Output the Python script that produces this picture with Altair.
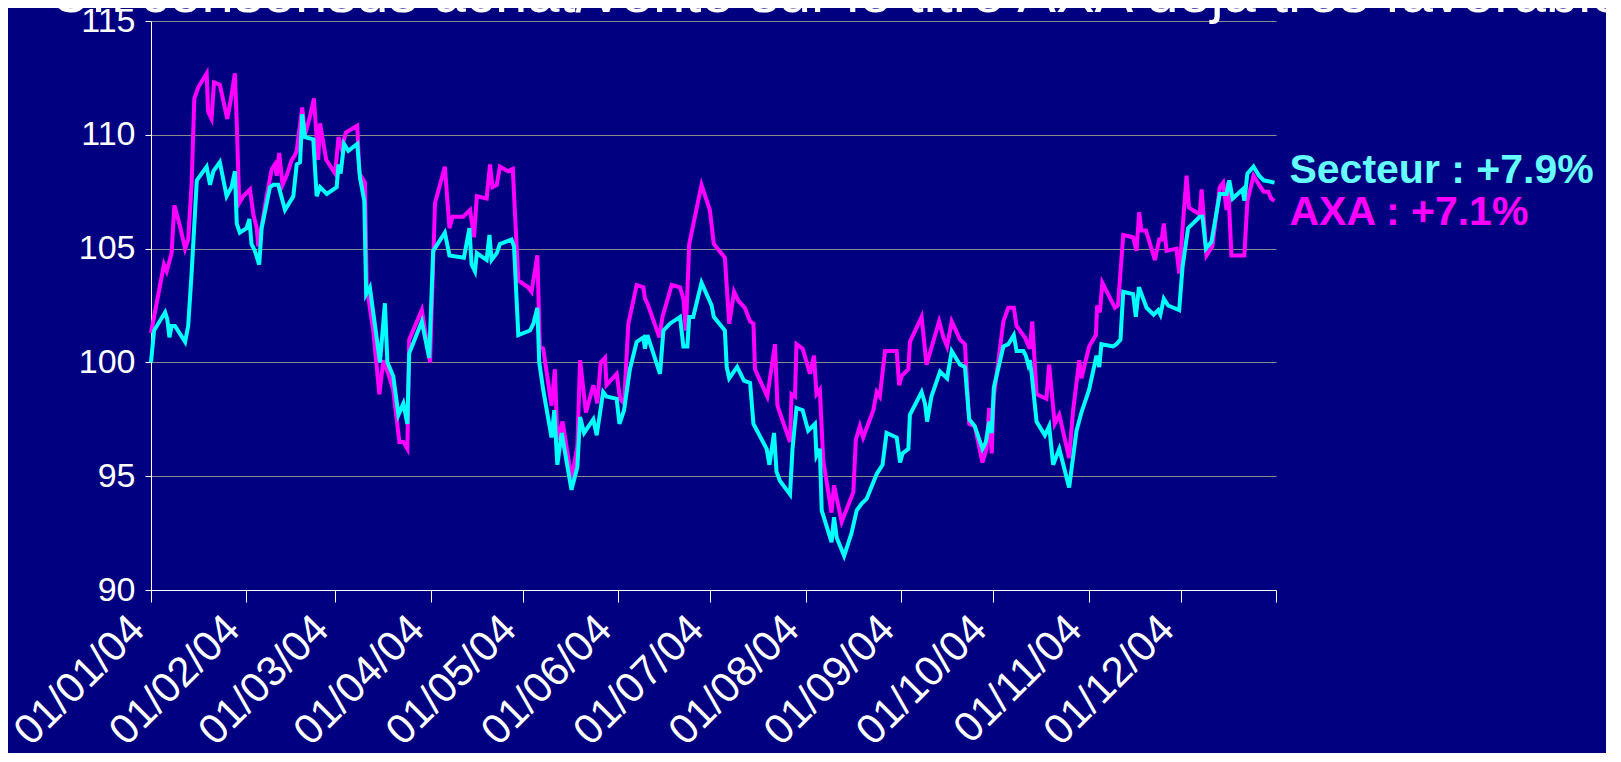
import altair as alt
import pandas as pd

TITLE = "Un consensus achat/vente sur le titre AXA déjà très favorable"

# day offsets from 01/01/2004 and index values (base 100)
sect_days = [0, 1.0, 4.6, 5.3, 6.0, 6.7, 7.8, 11.1, 12.1, 13.2, 14.9, 18.1, 19.2, 20.3, 22.4, 24.6, 26.2, 27.3, 27.9, 28.9,
             31.1, 32.0, 32.7, 33.8, 35.2, 36.0, 38.7, 39.8, 41.4, 43.6, 46.3, 47.4, 48.5, 49.2, 50.1, 52.8, 53.9, 55.0, 57.2, 60.4,
             61.0, 61.7, 62.8, 64.2, 67.1, 68.0, 69.4, 70.0, 71.2, 72.9, 74.5, 76.1, 76.9, 78.8, 80.5, 82.1, 83.4, 84.0, 88.1, 90.5,
             91.8, 95.6, 97.1, 101.8, 103.6, 104.3, 105.4, 106.0, 109.2, 110.1, 110.8, 112.5, 113.5, 117.3, 118.1, 119.5, 123.3, 124.4, 125.7, 126.3,
             127.6, 130.3, 131.2, 132.2, 133.6, 136.8, 138.7, 139.6, 140.9, 143.9, 145.0, 147.1, 148.2, 151.5, 152.4, 153.9, 155.8, 158.0, 160.2, 160.7,
             161.5, 165.6, 166.7, 168.8, 172.1, 173.2, 174.5, 175.1, 176.4, 179.1, 182.4, 183.1, 186.7, 187.3, 188.1, 190.7, 192.9, 194.9, 196.0, 200.3,
             201.2, 202.7, 203.5, 204.6, 207.9, 208.7, 210.0, 212.0, 213.8, 216.0, 216.5, 217.6, 218.2, 221.4, 222.2, 223.1, 225.5, 227.9, 229.6, 231.2,
             232.8, 236.1, 238.0, 239.3, 242.6, 243.7, 244.5, 246.4, 246.9, 250.7, 251.8, 252.5, 253.9, 256.7, 259.0, 260.5, 263.2, 264.8, 266.2, 268.0,
             270.5, 271.6, 272.7, 273.5, 274.2, 277.3, 278.9, 280.7, 281.6, 283.8, 284.6, 285.4, 285.9, 286.5, 288.1, 290.8, 292.2, 293.5, 295.5, 298.7,
             301.1, 302.7, 305.2, 307.6, 308.5, 309.2, 313.0, 314.1, 315.4, 316.3, 319.5, 320.4, 321.4, 323.9, 326.2, 327.7, 328.4, 329.5, 330.9, 334.5,
             335.6, 337.4, 341.2, 342.1, 343.2, 345.0, 347.7, 349.9, 350.8, 351.9, 355.1, 355.7, 356.7, 358.7, 360.5, 362.0, 365.5]
sect_vals = [100.0, 101.4, 102.2, 101.9, 101.1, 101.6, 101.6, 100.9, 101.6, 103.9, 108.0, 108.6, 107.8, 108.4, 108.8, 107.3, 107.7, 108.4, 106.1, 105.7,
             105.9, 106.3, 105.2, 104.9, 104.3, 105.9, 107.7, 107.8, 107.8, 106.7, 107.3, 108.7, 108.8, 110.9, 109.9, 109.8, 107.3, 107.7, 107.4, 107.7,
             108.7, 108.3, 109.6, 109.3, 109.6, 108.1, 107.1, 103.0, 103.3, 101.6, 100.0, 102.6, 100.0, 99.4, 97.7, 98.2, 97.3, 100.4, 101.8, 100.2,
             104.9, 105.7, 104.7, 104.6, 105.9, 104.3, 104.0, 104.8, 104.5, 105.6, 104.5, 104.8, 105.2, 105.4, 105.1, 101.2, 101.4, 101.7, 102.4, 100.0,
             98.8, 96.7, 97.9, 95.5, 96.9, 94.4, 95.4, 97.6, 96.9, 97.5, 96.8, 98.7, 98.5, 98.4, 97.3, 97.9, 99.7, 100.9, 101.1, 100.6,
             101.2, 99.5, 101.4, 101.7, 102.0, 100.7, 100.7, 102.0, 102.0, 103.5, 102.5, 102.0, 101.4, 99.8, 99.3, 99.8, 99.2, 99.1, 97.3, 96.2,
             95.5, 96.9, 95.2, 94.8, 94.2, 96.2, 98.0, 97.9, 97.0, 97.3, 95.9, 96.2, 93.5, 92.1, 93.2, 92.3, 91.5, 92.5, 93.5, 93.8,
             94.0, 95.1, 95.5, 96.9, 96.7, 95.6, 96.0, 96.2, 97.7, 98.7, 98.2, 97.4, 98.5, 99.6, 99.3, 100.5, 99.9, 99.8, 97.5, 97.2,
             96.2, 96.5, 97.4, 96.9, 98.9, 100.7, 100.8, 101.2, 100.5, 100.5, 100.3, 99.9, 100.1, 99.5, 97.4, 96.8, 97.2, 95.5, 96.2, 94.5,
             97.0, 97.8, 98.8, 100.3, 99.8, 100.8, 100.7, 100.8, 101.0, 103.1, 103.0, 102.0, 103.3, 102.4, 102.1, 102.3, 102.1, 102.8, 102.5, 102.3,
             104.2, 105.9, 106.4, 106.4, 105.0, 105.3, 107.4, 107.4, 108.0, 107.2, 107.6, 107.1, 108.3, 108.6, 108.2, 108.0, 107.9]

axa_days = [0, 2.4, 4.2, 5.1, 6.7, 7.6, 9.4, 11.1, 12.1, 13.2, 14.1, 15.4, 18.1, 18.6, 19.7, 20.5, 22.4, 24.8, 25.9, 27.3,
            27.9, 28.7, 30.0, 32.2, 33.3, 34.4, 34.9, 37.6, 39.3, 40.3, 40.9, 41.7, 42.8, 44.1, 45.8, 46.8, 47.4, 49.2, 50.1, 51.7,
            53.0, 54.4, 55.0, 57.0, 59.9, 61.0, 62.0, 63.4, 67.1, 67.8, 69.6, 70.2, 72.3, 74.3, 75.6, 77.2, 78.8, 80.8, 82.1, 83.4,
            84.0, 88.1, 90.8, 92.4, 95.6, 97.1, 98.1, 101.6, 103.8, 105.1, 106.0, 109.2, 110.3, 111.1, 112.5, 113.5, 116.2, 117.7, 119.5, 122.7,
            123.8, 125.7, 126.5, 127.6, 130.3, 131.4, 132.2, 133.9, 136.8, 138.7, 139.6, 141.5, 143.9, 145.2, 146.3, 147.7, 148.2, 151.5, 152.6, 153.9,
            155.3, 158.0, 160.2, 160.7, 161.5, 165.4, 166.4, 169.4, 172.1, 173.2, 174.0, 175.1, 179.1, 181.8, 183.1, 186.7, 188.1, 189.7, 191.1, 193.2,
            194.9, 196.0, 196.5, 200.5, 203.0, 203.8, 207.9, 208.4, 209.5, 210.0, 212.0, 214.4, 215.7, 216.5, 217.6, 218.7, 221.4, 222.2, 224.7, 228.5,
            229.3, 230.6, 231.7, 235.0, 236.1, 237.1, 238.8, 242.6, 243.4, 244.2, 246.4, 246.9, 250.7, 252.3, 256.4, 257.8, 259.0, 260.5, 263.2, 264.8,
            266.2, 268.0, 270.5, 271.8, 272.7, 273.5, 274.2, 277.3, 278.9, 280.7, 281.6, 284.3, 285.9, 286.7, 288.1, 291.3, 292.2, 294.0, 295.5, 298.7,
            300.0, 302.0, 302.7, 305.2, 307.4, 307.8, 308.7, 309.5, 313.6, 314.6, 316.3, 319.5, 320.6, 321.5, 322.2, 323.7, 326.6, 328.0, 328.8, 329.5,
            330.4, 333.6, 334.5, 336.9, 337.7, 341.2, 341.8, 343.4, 345.3, 347.7, 348.8, 349.9, 350.4, 351.5, 355.7, 356.7, 358.7, 360.5, 362.0, 363.5,
            364.4, 365.5]
axa_vals = [101.3, 103.0, 104.3, 104.0, 104.8, 106.9, 106.0, 105.0, 105.4, 107.8, 111.6, 112.1, 112.7, 111.0, 110.7, 112.3, 112.2, 110.7, 111.5, 112.7,
            110.5, 107.0, 107.3, 107.6, 106.5, 105.9, 105.1, 107.3, 108.5, 108.7, 108.2, 109.2, 107.8, 108.2, 108.9, 109.1, 109.3, 111.2, 110.0, 110.8,
            111.6, 108.9, 110.5, 108.9, 108.3, 109.9, 109.4, 110.1, 110.4, 108.3, 107.9, 103.3, 101.4, 98.6, 100.1, 99.5, 98.8, 96.5, 96.5, 96.2,
            101.0, 102.3, 100.0, 107.0, 108.6, 105.9, 106.4, 106.4, 106.7, 105.5, 107.3, 107.2, 108.7, 107.7, 107.8, 108.6, 108.4, 108.5, 103.6, 103.3,
            103.1, 104.7, 100.7, 100.6, 98.1, 99.7, 96.6, 97.4, 94.9, 96.3, 100.1, 97.8, 99.0, 98.2, 100.0, 100.2, 99.0, 99.5, 98.4, 98.2,
            101.7, 103.4, 103.3, 102.8, 102.6, 101.1, 102.0, 103.4, 103.3, 102.8, 101.4, 105.2, 107.8, 106.7, 105.2, 104.6, 101.7, 103.1, 102.7, 102.4,
            101.8, 101.7, 99.7, 98.5, 100.8, 98.1, 96.5, 98.6, 98.5, 100.8, 100.6, 99.5, 100.3, 98.6, 98.8, 95.7, 93.4, 94.6, 93.0, 94.3,
            96.6, 97.2, 96.7, 97.9, 98.7, 98.5, 100.5, 100.5, 99.0, 99.4, 99.7, 100.9, 102.0, 99.9, 101.8, 101.1, 100.7, 101.8, 101.0, 100.8,
            97.3, 97.2, 95.6, 96.2, 98.0, 96.0, 98.5, 101.8, 102.4, 102.4, 101.6, 101.1, 100.6, 101.8, 98.6, 98.4, 99.9, 97.3, 97.7, 95.8,
            97.9, 100.1, 99.3, 100.7, 101.2, 102.5, 102.2, 103.5, 102.4, 102.5, 105.6, 105.5, 104.9, 106.6, 105.8, 105.8, 104.5, 105.4, 105.4, 106.1,
            104.9, 105.0, 103.9, 108.2, 106.8, 106.5, 107.6, 104.7, 105.1, 107.7, 107.9, 106.7, 107.9, 104.7, 104.7, 107.1, 108.2, 107.8, 107.5, 107.5,
            107.2, 107.1]

series_names = ["Secteur", "AXA"]
end_labels = ["Secteur : +7.9%", "AXA : +7.1%"]
y_ticks = [90, 95, 100, 105, 110, 115]

FONT = "Liberation Sans"
BG = "#000080"
W, H = 1125, 569

base = pd.Timestamp("2004-01-01")
sect = pd.DataFrame({"date": base + pd.to_timedelta(sect_days, unit="D"), "value": sect_vals})
axa = pd.DataFrame({"date": base + pd.to_timedelta(axa_days, unit="D"), "value": axa_vals})

lab = pd.DataFrame({
    "date": [sect["date"].iloc[-1], axa["date"].iloc[-1]],
    "value": [sect_vals[-1], axa_vals[-1]],
    "label": end_labels,
    "serie": series_names,
})
title_df = pd.DataFrame({"t": [TITLE]})

month_ticks = [alt.DateTime(year=2004, month=m, date=1) for m in range(1, 13)] + [alt.DateTime(year=2005, month=1, date=1)]

x_enc = alt.X(
    "date:T",
    scale=alt.Scale(domain=[alt.DateTime(year=2004, month=1, date=1), alt.DateTime(year=2005, month=1, date=1)]),
    axis=alt.Axis(
        values=month_ticks,
        labelExpr="datum.value >= datetime(2005, 0, 1) ? '' : timeFormat(datum.value, '%d/%m/%y')",
        labelAngle=-45, labelAlign="right", labelBaseline="middle", labelPadding=20, labelOffset=-14,
        labelFont=FONT, labelFontSize=42, labelColor="white", labelOverlap=False, labelFlush=False,
        tickColor="white", tickSize=12, tickWidth=1, domainColor="white", domainWidth=1,
        grid=False, title=None,
    ),
)
y_enc = alt.Y(
    "value:Q",
    scale=alt.Scale(domain=[90, 115], nice=False, zero=False),
    axis=alt.Axis(
        values=y_ticks, labelFont=FONT, labelFontSize=34, labelColor="white", labelPadding=10,
        tickColor="white", tickSize=6, domainColor="white", gridColor="#8a8a8a", gridWidth=1,
        title=None, labelOverlap=False,
    ),
)

axa_line = alt.Chart(axa).mark_line(color="#FF00FF", strokeWidth=4).encode(x=x_enc, y=y_enc)
sect_line = alt.Chart(sect).mark_line(color="#00FFFF", strokeWidth=4).encode(x="date:T", y="value:Q")

lab_sect = alt.Chart(lab[lab["serie"] == "Secteur"]).mark_text(
    align="left", baseline="alphabetic", dx=15, dy=0, font=FONT, fontSize=41, fontWeight="bold", color="#66FFFF"
).encode(x="date:T", y="value:Q", text="label:N")
lab_axa = alt.Chart(lab[lab["serie"] == "AXA"]).mark_text(
    align="left", baseline="alphabetic", dx=15, dy=24, font=FONT, fontSize=41, fontWeight="bold", color="#FF00FF"
).encode(x="date:T", y="value:Q", text="label:N")

title = alt.Chart(title_df).mark_text(
    align="left", baseline="alphabetic", font=FONT, fontSize=58, color="white"
).encode(x=alt.value(-101), y=alt.value(-9), text="t:N")

chart = alt.layer(axa_line, sect_line, lab_sect, lab_axa, title).properties(
    width=W, height=H,
    autosize=alt.AutoSizeParams(type="none"),
    padding={"left": 143, "top": 13, "right": 330, "bottom": 163},
    background=BG,
).configure_view(strokeWidth=0)

chart.save("out.html", embed_options={"renderer": "svg", "actions": False})
